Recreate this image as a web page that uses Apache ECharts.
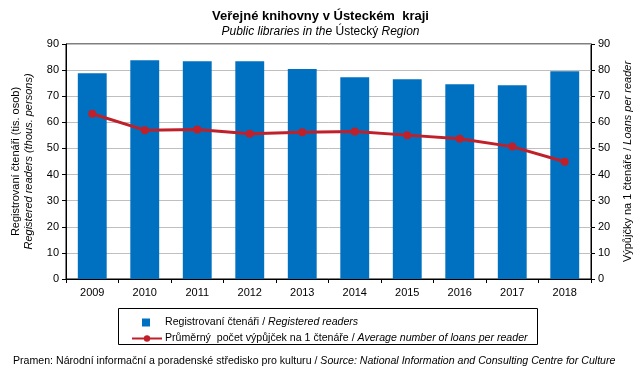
<!DOCTYPE html>
<html>
<head>
<meta charset="utf-8">
<script src="https://cdn.jsdelivr.net/npm/echarts@6/dist/echarts.min.js"></script>
<style>
html,body{margin:0;padding:0;background:#fff;}
#main{width:641px;height:376px;}
</style>
</head>
<body>
<div id="main"></div>
<script>
var years = ['2009','2010','2011','2012','2013','2014','2015','2016','2017','2018'];
var readers = [78.8, 83.8, 83.4, 83.4, 80.4, 77.3, 76.5, 74.6, 74.2, 79.6];   // tis. osob
var loansPerReader = [63.3, 57.0, 57.3, 55.6, 56.2, 56.5, 55.1, 53.7, 50.7, 44.9];
var axisTicks = [0, 90, 10];   // min, max, interval

var chart = echarts.init(document.getElementById('main'));
var font = 'Liberation Sans, Arial, sans-serif';
var lgSize = 10.6;

var option = {
    animation: false,
    textStyle: { fontFamily: font },
    title: [{
        text: 'Veřejné knihovny v Ústeckém  kraji',
        subtext: '{i|Public libraries in the }{n|Ústecký}{i| Region}',
        left: 'center',
        top: 5,
        itemGap: 3,
        textStyle: { fontSize: 13, fontWeight: 'bold', color: '#000', fontFamily: font },
        subtextStyle: {
            fontSize: 12, color: '#000',
            rich: {
                i: { fontStyle: 'italic', fontSize: 12, color: '#000', fontFamily: font },
                n: { fontSize: 12, color: '#000', fontFamily: font }
            }
        }
    }, {
        text: '{n|Pramen: Národní informační a poradenské středisko pro kulturu / }{i|Source: National Information and Consulting Centre for Culture}',
        left: 8,
        top: 351,
        textStyle: {
            fontWeight: 'normal',
            rich: {
                n: { fontSize: lgSize, color: '#000', fontFamily: font, fontWeight: 'normal' },
                i: { fontSize: lgSize, color: '#000', fontStyle: 'italic', fontFamily: font, fontWeight: 'normal' }
            }
        }
    }],
    grid: {
        left: 66, right: 50, top: 44, bottom: 97,
        show: true, borderColor: '#000', borderWidth: 1
    },
    legend: [{
        data: ['Registrovaní čtenáři'],
        left: 137, top: 312,
        icon: 'rect', itemWidth: 8, itemHeight: 8,
        formatter: function () { return '{n|Registrovaní čtenáři / }{i|Registered readers}'; },
        textStyle: {
            padding: [0, 0, 0, 10],
            rich: {
                n: { fontSize: lgSize, color: '#000', fontFamily: font },
                i: { fontSize: lgSize, color: '#000', fontStyle: 'italic', fontFamily: font }
            }
        }
    }, {
        data: ['Průměrný počet výpůjček'],
        left: 126, top: 328,
        itemWidth: 30, itemHeight: 8, itemGap: 5,
        formatter: function () { return '{n|Průměrný  počet výpůjček na 1 čtenáře / }{i|Average number of loans per reader}'; },
        textStyle: {
            padding: [0, 0, 0, -2],
            rich: {
                n: { fontSize: lgSize, color: '#000', fontFamily: font },
                i: { fontSize: lgSize, color: '#000', fontStyle: 'italic', fontFamily: font }
            }
        }
    }],
    graphic: [{
        type: 'rect',
        shape: { x: 118.5, y: 308.5, width: 419, height: 36 },
        style: { fill: 'none', stroke: '#000', lineWidth: 1 }
    }],
    xAxis: {
        type: 'category',
        data: years,
        axisLine: { lineStyle: { color: '#000' } },
        axisTick: { show: true, length: 4, lineStyle: { color: '#000' } },
        axisLabel: { color: '#000', fontSize: 11, margin: 8 }
    },
    yAxis: [{
        type: 'value',
        min: axisTicks[0], max: axisTicks[1], interval: axisTicks[2],
        name: '{a|Registrovaní čtenáři (tis. osob)}\n{b|Registered readers (thous. persons)}',
        nameLocation: 'middle',
        nameGap: 28,
        nameTextStyle: {
            lineHeight: 13,
            rich: {
                a: { fontSize: 11, color: '#000', fontFamily: font, lineHeight: 13 },
                b: { fontSize: 11, color: '#000', fontStyle: 'italic', fontFamily: font, lineHeight: 13 }
            }
        },
        axisLine: { show: true, lineStyle: { color: '#000' } },
        axisTick: { show: true, length: 4, lineStyle: { color: '#000' } },
        axisLabel: { color: '#000', fontSize: 11, margin: 7 },
        splitLine: { lineStyle: { color: '#BFBFBF', width: 1 } }
    }, {
        type: 'value',
        position: 'right',
        min: axisTicks[0], max: axisTicks[1], interval: axisTicks[2],
        name: '{a|Výpůjčky na 1 čtenáře / }{b|Loans per reader}',
        nameLocation: 'middle',
        nameGap: 31,
        nameTextStyle: {
            rich: {
                a: { fontSize: 11, color: '#000', fontFamily: font },
                b: { fontSize: 11, color: '#000', fontStyle: 'italic', fontFamily: font }
            }
        },
        axisLine: { show: true, lineStyle: { color: '#000' } },
        axisTick: { show: true, length: 4, lineStyle: { color: '#000' } },
        axisLabel: { color: '#000', fontSize: 11, margin: 7 },
        splitLine: { show: false }
    }],
    series: [{
        name: 'Registrovaní čtenáři',
        type: 'bar',
        data: readers,
        barWidth: '55%',
        itemStyle: { color: '#0070C0' }
    }, {
        name: 'Průměrný počet výpůjček',
        type: 'line',
        yAxisIndex: 1,
        data: loansPerReader,
        symbol: 'circle',
        symbolSize: 8,
        lineStyle: { color: '#C0202A', width: 3 },
        itemStyle: { color: '#C0202A' }
    }]
};

chart.setOption(option);
</script>
</body>
</html>
